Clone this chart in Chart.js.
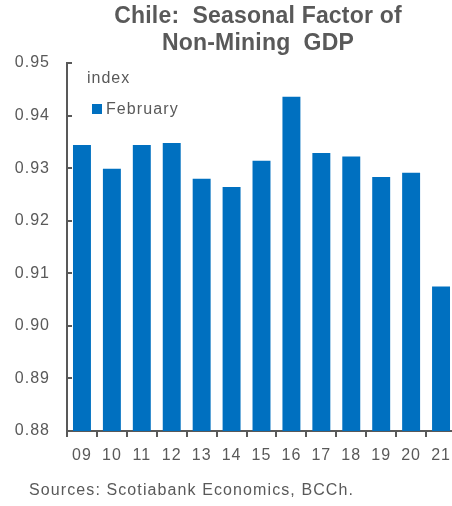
<!DOCTYPE html>
<html>
<head>
<meta charset="utf-8">
<script src="https://cdn.jsdelivr.net/npm/chart.js@4"></script>
<style>
  html, body { margin: 0; padding: 0; background: #fff; overflow: hidden; width: 452px; height: 506px; }
  #wrap { position: relative; width: 460px; height: 506px; }
  canvas { position: absolute; left: 0; top: 0; }
  .txt { position: absolute; font-family: "Liberation Sans", Arial, sans-serif; color: #595959; white-space: nowrap; }
  #title { left: 0; width: 516px; top: 2px; text-align: center; font-weight: bold; font-size: 23px; line-height: 27px; letter-spacing: 0.2px; }
  #source { left: 29px; top: 481px; font-size: 16px; letter-spacing: 1.1px; }
  #unit { left: 87px; top: 69px; font-size: 16px; letter-spacing: 1px; }
  #legend { left: 92px; top: 100px; font-size: 16px; letter-spacing: 1.1px; }
  #legend span.box { display: inline-block; width: 10px; height: 10px; background: #0070C0; margin-right: 4px; }
</style>
</head>
<body>
<div id="wrap">
  <canvas id="chart" width="460" height="506"></canvas>
  <div class="txt" id="title">Chile:&nbsp; Seasonal Factor of<br>Non-Mining&nbsp; GDP</div>
  <div class="txt" id="unit">index</div>
  <div class="txt" id="legend"></div>
  <div class="txt" id="source">Sources: Scotiabank Economics, BCCh.</div>
</div>
<script>
// chart data
const years = ['09', '10', '11', '12', '13', '14', '15', '16', '17', '18', '19', '20', '21'];
const february = [0.9344, 0.9299, 0.9344, 0.9348, 0.9280, 0.9264, 0.9314, 0.9436, 0.9329, 0.9322, 0.9283, 0.9291, 0.9075];
const seriesName = 'February';
const yMin = 0.88;
const yMax = 0.95;
const yStep = 0.01;

const gray = '#595959';
const blue = '#0070C0';

// legend as html
document.getElementById('legend').innerHTML = '<span class="box"></span>' + seriesName;

// wider tick label spacing like the original
const spacing = {
  id: 'spacing',
  beforeDraw(chart) { chart.ctx.letterSpacing = '1px'; }
};

const ctx = document.getElementById('chart').getContext('2d');
new Chart(ctx, {
  type: 'bar',
  data: {
    labels: years,
    datasets: [{
      label: seriesName,
      data: february,
      backgroundColor: blue,
      borderWidth: 0,
      barPercentage: 0.6,
      categoryPercentage: 1.0
    }]
  },
  plugins: [spacing],
  options: {
    responsive: false,
    animation: false,
    layout: { padding: { top: 63, right: 4, left: 0, bottom: 0 } },
    plugins: {
      legend: { display: false },
      tooltip: { enabled: false },
      title: { display: false }
    },
    scales: {
      x: {
        grid: {
          offset: true,
          drawOnChartArea: false,
          drawTicks: true,
          tickLength: 6,
          color: gray,
          lineWidth: 2
        },
        border: { color: gray, width: 2 },
        ticks: {
          color: gray,
          font: { family: 'Liberation Sans', size: 16 },
          padding: 9,
          maxRotation: 0,
          autoSkip: false
        },
        afterFit: (scale) => { scale.height = 75; }
      },
      y: {
        min: yMin,
        max: yMax,
        grid: {
          drawOnChartArea: false,
          drawTicks: true,
          tickLength: -5,
          color: gray,
          lineWidth: 2
        },
        border: { color: gray, width: 2 },
        ticks: {
          stepSize: yStep,
          color: gray,
          font: { family: 'Liberation Sans', size: 16 },
          padding: 22,
          callback: (v) => v.toFixed(2)
        },
        afterFit: (scale) => { scale.width = 67; }
      }
    }
  }
});
</script>
</body>
</html>
